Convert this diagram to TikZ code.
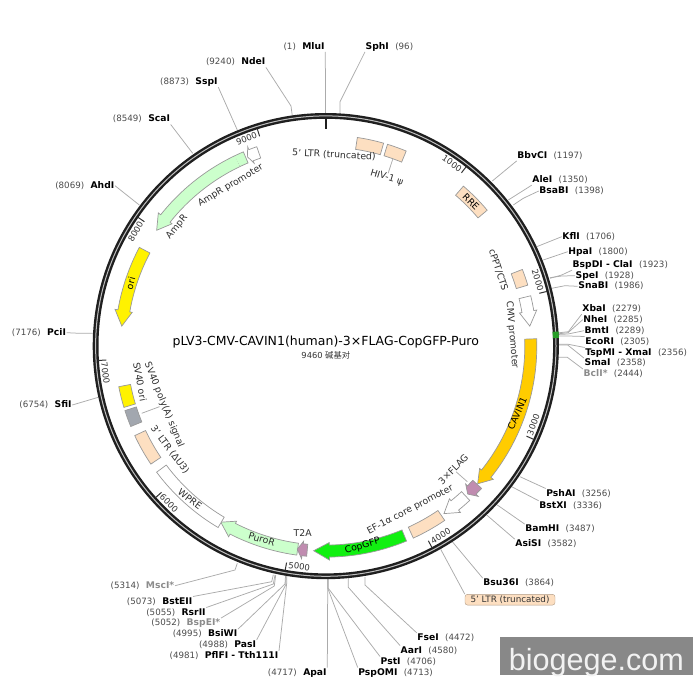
\documentclass[tikz,border=0pt]{standalone}
\usepackage{fontspec}
\setmainfont{DejaVu Sans}
\newfontfamily\cjkfont{Noto Sans CJK SC}
\newfontfamily\markfont{Liberation Sans}
\usetikzlibrary{positioning}
\definecolor{peach}{HTML}{FDDFC1}
\definecolor{mint}{HTML}{CCFFCC}
\definecolor{amber}{HTML}{FFCC00}
\definecolor{lime}{HTML}{11F011}
\definecolor{mauve}{HTML}{C08CB0}
\definecolor{slate}{HTML}{A2A7AF}
\definecolor{ghost}{HTML}{8C8C8C}
\definecolor{numgray}{HTML}{4A4A4A}
\definecolor{leadgray}{HTML}{ABABAB}
\definecolor{markgray}{HTML}{888888}
\tikzset{
  feat/.style={draw=black!40,line width=0.7pt},
  featname/.style={inner sep=0pt,text=black!82,font=\fontsize{9.3}{11}\selectfont},
  sitename/.style={inner sep=0.5pt,text height=7pt,text depth=2pt,font=\fontsize{9.2}{11}\selectfont\bfseries},
  sitenum/.style={inner sep=0.5pt,text height=7pt,text depth=2pt,text=numgray,font=\fontsize{8.7}{11}\selectfont},
  lead/.style={draw=leadgray,line width=0.75pt},
  ticktext/.style={inner sep=0pt,text=black!80,font=\fontsize{8.5}{10}\selectfont}
}
\newcommand{\rin}{199}
\newcommand{\rout}{211}
\newcommand{\featbox}[3]{\draw[feat,fill=#3] (#1-90:\rin) arc[start angle=#1-90,end angle=#2-90,radius=\rin] -- (#2-90:\rout) arc[start angle=#2-90,end angle=#1-90,radius=\rout] -- cycle;}
\newcommand{\featarrow}[4]{\draw[feat,fill=#4] (#1-90:\rin) arc[start angle=#1-90,end angle=#2-90,radius=\rin] -- (#2-90:196.5) -- (#3-90:205) -- (#2-90:214) -- (#2-90:\rout) arc[start angle=#2-90,end angle=#1-90,radius=\rout] -- cycle;}
\begin{document}
\begin{tikzpicture}[yscale=-1,x=1pt,y=1pt]
\useasboundingbox (0,0) rectangle (700,700);
\foreach \id/\nm/\num/\an/\lx/\ly/\bx/\by/\ex/\ey in {
  sph/SphI/96/south west/365/46.7/340/101.7/340/115,
  bbv/BbvCI/1197/south west/516.7/155.7/492.3/181/492.3/181,
  ale/AleI/1350/south west/531.7/180/508.3/200/508.3/200,
  bsa/BsaBI/1398/west/538.7/191/523.3/198.3/513.3/205,
  kfl/KflI/1706/west/561.7/236.7/536.7/246.7/536.7/246.7,
  hpa/HpaI/1800/west/567.7/251.7/543.3/260/543.3/260,
  cla/BspDI - ClaI/1923/south west/572/265/561.7/275/550/278.3,
  spe/SpeI/1928/west/575/275.7/561.7/276/550/277.7,
  sna/SnaBI/1986/west/577.7/286.3/565/285.7/551.7/288.3,
  xba/XbaI/2279/south west/581.7/309/568.3/331.7/557/333,
  nhe/NheI/2285/west/582.7/319.7/568/332.7/557/334,
  bmt/BmtI/2289/west/584/330.7/568/334/557/334.5,
  eco/EcoRI/2305/north west/584.7/341.7/568.3/336/557/336,
  tsp/TspMI - XmaI/2356/north west/584.7/352.7/568.3/344.3/557/344.3,
  sma/SmaI/2358/north west/584/363.3/567.7/345/557/345,
  bcl/{\color{ghost}BclI*}/2444/north west/583/374.3/567.3/357.3/557/357.3,
  psh/PshAI/3256/north west/545.7/493.7/520/476.7/520/476.7,
  bst/BstXI/3336/north west/538.7/506/511.7/486.7/511.7/486.7,
  bam/BamHI/3487/north west/524.7/529.3/497.3/505/497.3/505,
  asi/AsiSI/3582/north west/514.7/544.3/486.7/515/486.7/515,
  bsu/Bsu36I/3864/north west/482.7/583.3/452.3/541.7/452.3/541.7,
  fse/FseI/4472/north west/416.7/638/365/585/365/577,
  aar/AarI/4580/north west/400/650.7/348.3/587.3/348.3/577,
  pst/PstI/4706/north west/380/661.7/328.3/588.3/328.3/577,
  psp/PspOMI/4713/north west/357.7/672.7/327.7/588/327.7/577}{
  \node[sitename,anchor=west] (\id) at (\lx,\ly) {\nm};
  \node[sitenum,right=5pt of \id] (\id-num) {(\num)};
  \coordinate (\id-bend) at (\bx,\by);
  \coordinate (\id-ring) at (\ex,\ey);
  \draw[lead] (\id.\an) -- (\id-bend) -- (\id-ring);
}
\foreach \id/\nm/\num/\an/\lx/\ly/\bx/\by/\ex/\ey in {
  mlu/MluI/1/south east/325.3/46.7/325.5/100/325.5/115,
  nde/NdeI/9240/south east/266/62.3/291/106/292.3/116,
  ssp/SspI/8873/south east/218.3/82/237.3/130/237.3/130,
  sca/ScaI/8549/south east/170.7/119.3/192.7/153.3/192.7/153.3,
  ahd/AhdI/8069/east/115/185.7/139.3/205/139.3/205,
  pci/PciI/7176/east/66.7/332.7/79.3/333.3/94/333.3,
  sfi/SfiI/6754/east/72.3/405/98.3/397.3/98.3/397.3,
  apa/ApaI/4717/north east/327.3/672.7/327.7/588/327.7/577,
  pfl/PflFI - Tth111I/4981/north east/279/656/286.7/583.3/286.7/576,
  pas/PasI/4988/north east/256.7/645/285.7/585/286/576,
  bsw/BsiWI/4995/north east/238/634.3/285/584/285.5/576,
  bsp/{\color{ghost}BspEI*}/5052/north east/221/623.3/274.3/586/275.7/575,
  rsr/RsrII/5055/north east/206.3/612.7/273.3/584/275/575,
  bte/BstEII/5073/north east/193/601.7/271.7/581.7/273.3/574.7,
  msc/{\color{ghost}MscI*}/5314/east/175/585.7/235/570/237.3/563.3}{
  \node[sitename,anchor=east] (\id) at (\lx,\ly) {\nm};
  \node[sitenum,left=5pt of \id] (\id-num) {(\num)};
  \coordinate (\id-bend) at (\bx,\by);
  \coordinate (\id-ring) at (\ex,\ey);
  \draw[lead] (\id.\an) -- (\id-bend) -- (\id-ring);
}
\node[draw=peach!70!black,fill=peach,rounded corners=2.5pt,inner sep=0pt,minimum width=90pt,minimum height=10.7pt,font=\fontsize{8.8}{10}\selectfont,text=black!80] (ltrtag) at (510,599.7) {5' LTR (truncated)};
\coordinate (ltrtag-ring) at (440.7,549.3);
\draw[lead] (ltrtag.north west) -- (ltrtag-ring);
\begin{scope}[shift={(325.8,346.1)}]
\draw[black!88,line width=5.8pt] (0,0) circle (230.2);
\draw[black!25,line width=1pt] (0,0) circle (230.2);
\draw[green!55!black!85,line width=6pt] (86.4-90:230.2) arc[start angle=86.4-90,end angle=88-90,radius=230.2];
\draw[black!88,line width=2pt] (-90:228) -- (-90:217.5);
\foreach \k/\rot in {1000/-34.7,2000/-72.6,3000/69.6,4000/31.3,5000/-6.9,6000/-45.2,7000/-83.1,8000/59.5,9000/20.7}{
  \draw[black!80,line width=1pt] ({\k/9460*360-90}:228) -- ({\k/9460*360-90}:220);
  \node[ticktext,rotate=\rot] (tick\k) at ({\k/9460*360-93.4}:222) {\k};
}
\featbox{8.6}{15.9}{peach}
\featbox{17}{22.4}{peach}
\featbox{40.7}{49.9}{peach}
\featbox{68.7}{73.2}{peach}
\featarrow{76.2}{80.3}{84.4}{white}
\featarrow{88}{128.5}{132.2}{amber}
\featarrow{132.4}{134.6}{136.2}{mauve}
\featarrow{137}{141}{144.8}{white}
\featbox{145.7}{155.5}{peach}
\featarrow{157.5}{179}{183.4}{lime}
\featarrow{187.9}{207}{210.8}{mint}
\featarrow{185.2}{186.5}{188}{mauve}
\featbox{210.7}{233.3}{white}
\featbox{236}{244.9}{peach}
\featbox{247.6}{252.2}{slate}
\featbox{253.1}{258.9}{yellow}
\featarrow{297.9}{279.9}{275.6}{yellow}
\featarrow{337}{308.5}{304.4}{mint}
\featarrow{340.9}{338.6}{337.5}{white}
\draw[black!40,dotted] (334.4-90:200) -- (334.4-90:208);
\end{scope}
\node[featname,rotate=-3] (ltrname) at (334,155) {5' LTR (truncated)};
\node[featname,rotate=-17] (psiname) at (386.7,177.7) {HIV-1 ψ};
\coordinate (psibox) at (392.7,159.3);
\draw[lead] (psiname) -- (psibox);
\node[featname,rotate=-45,text=black] (rrename) at (471,202) {RRE};
\node[featname,rotate=-72] (cpptname) at (498.3,270) {cPPT/CTS};
\node[featname,rotate=-85] (cmvname) at (512,335) {CMV promoter};
\node[featname,rotate=66,text=black] (cavname) at (517.3,413.3) {CAVIN1};
\node[featname,rotate=45] (flagname) at (453.3,469.3) {3×FLAG};
\coordinate (flagbox) at (467.3,481.7);
\draw[lead] (flagname) -- (flagbox);
\node[featname,rotate=27.7] (efname) at (410.3,510) {EF-1α core promoter};
\node[featname,rotate=16,text=black] (gfpname) at (362.5,546) {CopGFP};
\node[featname] (t2aname) at (302.7,533.3) {T2A};
\node[featname,rotate=-17] (puroname) at (261.7,539.3) {PuroR};
\node[featname,rotate=-37] (wprename) at (190,499) {WPRE};
\node[featname,rotate=-53] (ltr3name) at (170,450) {3' LTR (ΔU3)};
\node[featname,rotate=-68] (polyname) at (164,405) {SV40 poly(A) signal};
\coordinate (polybox) at (141.7,413.3);
\draw[lead] (polyname) -- (polybox);
\node[featname,rotate=-80] (sv40name) at (140,381.7) {SV40 ori};
\node[featname,rotate=75,text=black] (oriname) at (130.7,283.3) {ori};
\node[featname,rotate=50] (ampname) at (177,227) {AmpR};
\node[featname,rotate=30.5] (amppname) at (230.7,185.7) {AmpR promoter};
\node[inner sep=0pt,font=\fontsize{12.5}{14}\selectfont] (title) at (325.8,342) {pLV3-CMV-CAVIN1(human)-3×FLAG-CopGFP-Puro};
\node[inner sep=0pt,text=black!80,font=\fontsize{8.3}{10}\selectfont,below=3pt of title] (size) {9460 {\cjkfont 碱基对}};
\node[fill=markgray,text=white!95!black,inner sep=0pt,minimum width=192.7pt,text height=32.7pt,text depth=5.3pt,font=\markfont\fontsize{30.6}{32}\selectfont] (mark) at (596.4,656.3) {biogege.com};
\end{tikzpicture}
\end{document}
